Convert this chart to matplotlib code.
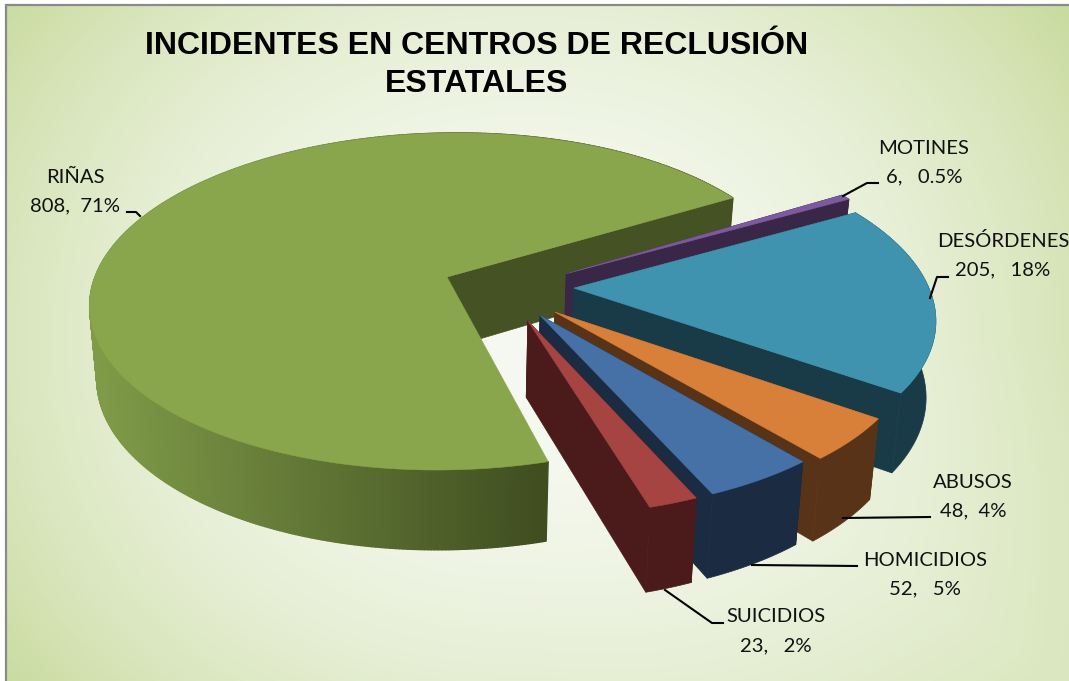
import numpy as np
import matplotlib
matplotlib.use("Agg")
import matplotlib.pyplot as plt
from matplotlib.patches import Polygon
from matplotlib.collections import PolyCollection
from matplotlib.colors import to_rgb

# ---- data
categories = ["RIÑAS", "MOTINES", "DESÓRDENES", "ABUSOS", "HOMICIDIOS", "SUICIDIOS"]
values = [808, 6, 205, 48, 52, 23]
pct_labels = ["71%", "0.5%", "18%", "4%", "5%", "2%"]
value_gaps = ["  ", "   ", "   ", "  ", "   ", "   "]

# ---- style
top_colors = ["#8AA64C", "#7D5AA0", "#3F93AE", "#D8803A", "#4571A7", "#A64442"]
wall_colors = ["#455224", "#3A2748", "#193A47", "#593318", "#1A2B42", "#4A1B1A"]
offsets = [(0, 0), (0.335, 0.02), (0.352, -0.0665), (0.293, -0.206), (0.252, -0.225), (0.218, -0.256)]
radii = [1.0, 1.0, 0.985, 0.96, 0.955, 0.94]
x_scale = [0.986, 1, 1, 1, 1, 1]
shear = [10.0, 0, 0, 0, 0, 0]
depths = [73.0, 76.0, 76.0, 76.0, 76.0, 76.0]
label_pos = [(75, 191), (924, 162), (1003, 255), (973, 496), (925, 574), (776, 631)]
leaders = [
    [(140, 216), (136, 212), (127, 212)],
    [(843, 196), (867, 183), (878, 183)],
    [(930, 298), (937, 277), (948, 277)],
    [(843, 518), (930, 517)],
    [(752, 565), (857, 566)],
    [(665, 590), (712, 623), (723, 623)],
]

X0, Y0, A, B, K = 447.0, 277.0, 357.0, 165.0, 0.145
SHRINK = 0.98


def proj(X, Y, depth=None, xs=1.0, sh=0.0):
    X, Y = np.asarray(X, float), np.asarray(Y, float)
    den = 1 + K * Y
    sx, sy = A * xs * X / den + sh * Y, -B * Y / den
    if depth is not None:
        return X0 + SHRINK * sx, Y0 + SHRINK * (sy + depth / den)
    return X0 + sx, Y0 + sy


fig = plt.figure(figsize=(10.69, 6.81), dpi=100, facecolor="white")
ax = fig.add_axes([0, 0, 1, 1])
ax.axis("off")

# background gradient
yy, xx = np.mgrid[4:681, 5:1069]
u = (xx - 530) / 530.0
v = (yy - 340) / 340.0
t = np.clip((0.78 * np.abs(u) ** 2.2 + 0.42 * np.abs(v) ** 2.2) / 1.2, 0, 1) ** 0.95
t = t * (1 - 0.4 * ((u > 0) & (v > 0)) * np.minimum(u, v))
center = np.array(to_rgb("#F6F9F1"))
corner = np.array(to_rgb("#C9DB9F"))
img = center + (corner - center) * t[..., None]
ax.imshow(img, extent=(5, 1069, 681, 4), aspect="auto", zorder=0, interpolation="bilinear")
ax.set_xlim(0, 1069)
ax.set_ylim(681, 0)
ax.plot([5.5, 5.5, 1069], [681, 4.5, 4.5], color="#8A8A8A", lw=1.6, zorder=1, solid_joinstyle="miter")

# slices
total = sum(values)
angle = 31.0 + 360 * values[0] / total
z = 2
for i, val in enumerate(values):
    span = 360 * val / total
    th = np.radians(np.linspace(angle, angle - span, max(int(span * 2), 4)))
    ox, oy = offsets[i]
    r = radii[i]
    ax_x, ax_y = r * np.cos(th) + ox, r * np.sin(th) + oy
    kw = dict(xs=x_scale[i], sh=shear[i])
    tx, ty = proj(ax_x, ax_y, **kw)
    bx, by = proj(ax_x, ax_y, depth=depths[i], **kw)
    atx, aty = proj(ox, oy, **kw)
    abx, aby = proj(ox, oy, depth=depths[i], **kw)
    wall = wall_colors[i]
    # outer wall
    if i == 0:
        quads = [[(tx[k], ty[k]), (tx[k + 1], ty[k + 1]), (bx[k + 1], by[k + 1]), (bx[k], by[k])]
                 for k in range(len(tx) - 1)]
        light, dark = np.array(to_rgb("#7F9B48")), np.array(to_rgb("#3F4D20"))
        mids = np.array([(tx[k] + tx[k + 1]) / 2 for k in range(len(tx) - 1)])
        w = np.clip((mids - 95) / (545 - 95), 0, 1)[..., None]
        cols = light + (dark - light) * w
        ax.add_collection(PolyCollection(quads, facecolors=cols, edgecolors=cols, linewidths=1.0, zorder=z))
    else:
        pts = list(zip(tx, ty)) + list(zip(bx[::-1], by[::-1]))
        ax.add_patch(Polygon(pts, closed=True, fc=wall, ec=wall, lw=0.5, zorder=z))
    # radial walls (the far edge of the large slice is hidden behind its own top)
    for j in ((-1,) if i == 0 else (0, -1)):
        # the large slice runs past 360 degrees, so its visible edge is the one at the start angle
        jj = 0 if i == 0 and False else j
        if i == 0:
            # find the rim point on the upper right of the large slice
            jj = int(np.argmax(tx * (ty < Y0)))
        ax.add_patch(Polygon([(atx, aty), (tx[jj], ty[jj]), (bx[jj], by[jj]), (abx, aby)],
                             closed=True, fc=wall, ec=wall, lw=0.5, zorder=z + 0.2))
    # top face
    ax.add_patch(Polygon(list(zip([atx, *tx], [aty, *ty])), closed=True,
                         fc=top_colors[i], ec=top_colors[i], lw=0.4, zorder=z + 0.5))
    angle -= span
    z += 1

# leaders and labels
for pts in leaders:
    p = np.array(pts)
    ax.plot(p[:, 0], p[:, 1], color="black", lw=1.5, zorder=20)
for name, val, gap, pct, (lx, ly) in zip(categories, values, value_gaps, pct_labels, label_pos):
    ax.text(lx, ly - 14, name, ha="center", va="center", fontsize=14.6, family="Lato",
            color="#111111", zorder=21)
    ax.text(lx, ly + 14.5, f"{val},{gap}{pct}", ha="center", va="center", fontsize=14.6, family="Lato",
            color="#111111", zorder=21)

# title
ax.text(477, 46, "INCIDENTES EN CENTROS DE RECLUSIÓN", ha="center", va="center",
        fontsize=23.0, fontweight="bold", family="Liberation Sans", color="black", zorder=21)
ax.text(477, 84, "ESTATALES", ha="center", va="center",
        fontsize=23.0, fontweight="bold", family="Liberation Sans", color="black", zorder=21)

fig.savefig("out.png", dpi=100)
